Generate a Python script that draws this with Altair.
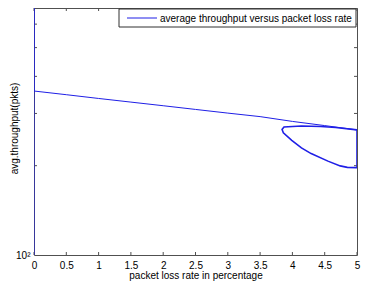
import altair as alt
import pandas as pd

series_name = "average throughput versus packet loss rate"

# main curve (packet loss %, avg throughput pkts)
main_x = [0, 0, 0, 0.5, 1, 1.5, 2, 2.5, 3, 3.5, 4, 4.5, 5]
main_y = [80, 1200, 357, 347, 337, 327.6, 318.5, 309.5, 300.8, 292.7, 282, 273, 264]

# loop near 4-5 %
loop_x = [5, 4.67, 4.44, 4.14, 3.87, 3.84, 3.86, 3.99, 4.14, 4.29, 4.55, 4.74, 4.85, 5, 5]
loop_y = [264, 269, 271, 272, 270, 265, 258, 243.6, 229.6, 219.7, 207.2, 199.7, 197.4, 197, 264]

x_ticks = [0, 0.5, 1, 1.5, 2, 2.5, 3, 3.5, 4, 4.5, 5]
y_ticks = [200, 300, 400, 500, 600]
y_labels = [100]

W, H = 323, 247
BLUE = "#1f1fe6"
FRAME = "#505050"

main_df = pd.DataFrame({"x": main_x, "y": main_y, "o": range(len(main_x))})
loop_df = pd.DataFrame({"x": loop_x, "y": loop_y, "o": range(len(loop_x))})
xt_df = pd.DataFrame({"x": x_ticks})
yt_df = pd.DataFrame({"y": y_ticks})
leg_df = pd.DataFrame({"s": [series_name]})

xs = alt.Scale(domain=[0, 5], nice=False, zero=False)
ys = alt.Scale(type="log", domain=[100, 680], nice=False)

x_axis = alt.Axis(values=x_ticks, format="~g", labelFlush=False, ticks=False,
                  domain=False, grid=False, labelFontSize=10, labelColor="#000",
                  labelPadding=5, title="packet loss rate in percentage",
                  titleFontSize=10, titleFontWeight="normal", titleColor="#000",
                  titleBaseline="middle", titleY=20)
y_axis = alt.Axis(values=y_labels, labelExpr="'10²'", ticks=False, domain=False,
                  grid=False, labelFontSize=10, labelColor="#000", labelPadding=4,
                  title="avg.throughput(pkts)", titleFontSize=10,
                  titleFontWeight="normal", titleColor="#000",
                  titleBaseline="middle", titleX=-20, titleY=120)

main = alt.Chart(main_df).mark_line(strokeWidth=1, clip=True, color=BLUE).encode(
    x=alt.X("x:Q", scale=xs, axis=x_axis),
    y=alt.Y("y:Q", scale=ys, axis=y_axis),
    order="o:Q",
)

loop = alt.Chart(loop_df).mark_line(strokeWidth=1.6, clip=True, color=BLUE).encode(
    x=alt.X("x:Q", scale=xs, axis=x_axis),
    y=alt.Y("y:Q", scale=ys, axis=y_axis),
    order="o:Q",
)

xt_bottom = alt.Chart(xt_df).mark_rule(color=FRAME).encode(
    x=alt.X("x:Q", scale=xs, axis=x_axis), y=alt.value(H), y2=alt.value(H - 3))
xt_top = alt.Chart(xt_df).mark_rule(color=FRAME).encode(
    x=alt.X("x:Q", scale=xs, axis=x_axis), y=alt.value(0), y2=alt.value(3))
yt_left = alt.Chart(yt_df).mark_rule(color=FRAME).encode(
    y=alt.Y("y:Q", scale=ys, axis=y_axis), x=alt.value(0), x2=alt.value(3))
yt_right = alt.Chart(yt_df).mark_rule(color=FRAME).encode(
    y=alt.Y("y:Q", scale=ys, axis=y_axis), x=alt.value(W), x2=alt.value(W - 3))

# legend box (drawn as guide marks)
leg_box = alt.Chart(leg_df).mark_rect(fill="white", stroke="#303030", strokeWidth=1).encode(
    x=alt.value(85), x2=alt.value(322), y=alt.value(1), y2=alt.value(19))
leg_line = alt.Chart(leg_df).mark_rule(color=BLUE, strokeWidth=1).encode(
    x=alt.value(93), x2=alt.value(123), y=alt.value(10))
leg_text = alt.Chart(leg_df).mark_text(align="left", baseline="middle", fontSize=10,
                                       color="#000").encode(
    x=alt.value(126), y=alt.value(10.5), text="s:N")

chart = alt.layer(xt_bottom, xt_top, yt_left, yt_right, main, loop,
                  leg_box, leg_line, leg_text).properties(
    width=W, height=H,
    autosize=alt.AutoSizeParams(type="none"),
    padding={"left": 26, "top": 0, "right": 4, "bottom": 26},
).configure(font="Liberation Sans").configure_view(stroke=FRAME, strokeWidth=1)

chart.save("out.html", embed_options={"renderer": "svg", "actions": False})
